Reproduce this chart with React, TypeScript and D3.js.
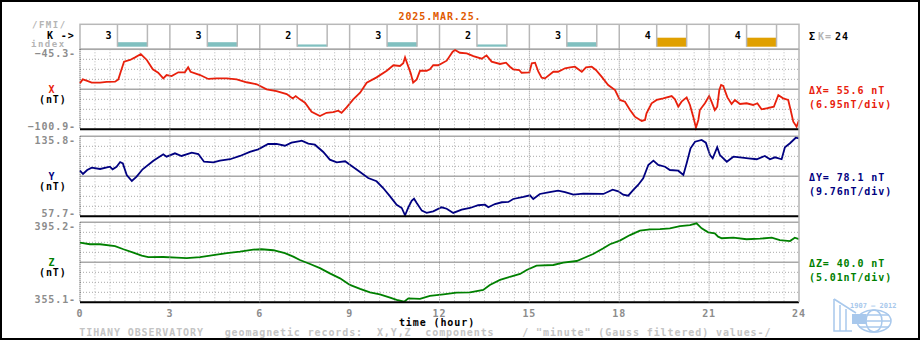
import { useEffect } from "react";
import * as d3 from "d3";

// ---- data ----
const dateLabel = "2025.MAR.25.";
const hourTicks = [0, 3, 6, 9, 12, 15, 18, 21, 24];
const kIndex = [3, 3, 2, 3, 2, 3, 4, 4];
const kSum = 24;
// lower limit of each K class in nT (Tihany scale) - bar height
const kLowerLimit = [0, 5, 10, 20, 40, 70, 120, 200, 330, 500];

const rangeX = [-100.9, -45.3];
const rangeY = [57.7, 135.8];
const rangeZ = [355.1, 395.2];
const deltaText = ["55.6", "78.1", "40.0"];
const perDivText = ["6.95", "9.76", "5.01"];

// [hour, nT]
const seriesX: [number, number][] = [
  [0, -68.9], [0.09, -66.2], [0.22, -67.1], [0.39, -68.5], [0.67, -68.5], [0.89, -68.0],
  [1.17, -67.8], [1.28, -66.2], [1.36, -60.9], [1.47, -53.9], [1.67, -52.7], [1.84, -50.9],
  [2.03, -48.6], [2.23, -52.7], [2.43, -59.2], [2.61, -61.6], [2.78, -65.5], [2.89, -63.2],
  [3.06, -63.9], [3.28, -61.3], [3.5, -61.3], [3.61, -57.8], [3.69, -60.9], [4.01, -63.2],
  [4.28, -65.9], [4.56, -65.5], [4.9, -65.5], [5.23, -66.2], [5.56, -68.2], [5.9, -69.6],
  [6.23, -73.1], [6.56, -74.3], [6.9, -76.4], [7.1, -79.4], [7.2, -77.8], [7.34, -80.1],
  [7.51, -82.4], [7.73, -88.7], [8.01, -91.7], [8.23, -89.4], [8.45, -88.9], [8.62, -88.0],
  [8.73, -89.4], [8.9, -85.6], [9.12, -80.1], [9.35, -75.5], [9.57, -68.5], [9.9, -64.8],
  [10.24, -60.2], [10.46, -56.4], [10.68, -56.9], [10.79, -55.0], [10.85, -50.9], [10.96, -57.4],
  [11.04, -62.0], [11.12, -68.5], [11.24, -66.2], [11.35, -60.2], [11.57, -60.2], [11.68, -59.2],
  [11.79, -56.4], [11.96, -56.4], [12.24, -53.2], [12.44, -47.0], [12.52, -45.8], [12.68, -47.7],
  [12.91, -48.1], [13.13, -50.0], [13.41, -51.8], [13.57, -49.5], [13.74, -53.9], [14.02, -55.5],
  [14.22, -54.6], [14.35, -57.4], [14.46, -59.2], [14.66, -59.7], [14.74, -61.6], [15.0, -61.3],
  [15.08, -55.0], [15.19, -54.6], [15.3, -60.9], [15.41, -65.0], [15.52, -65.5], [15.8, -60.9],
  [15.96, -60.9], [16.19, -58.5], [16.36, -57.8], [16.52, -57.4], [16.75, -60.9], [16.89, -57.8],
  [17.08, -57.4], [17.22, -59.7], [17.41, -64.3], [17.63, -70.1], [17.86, -73.6], [18.02, -80.5],
  [18.19, -81.7], [18.36, -87.5], [18.52, -92.1], [18.75, -95.1], [18.86, -94.4], [18.91, -89.8],
  [19.08, -82.8], [19.25, -80.5], [19.47, -79.4], [19.75, -77.8], [19.86, -80.1], [19.97, -85.2],
  [20.08, -81.7], [20.25, -78.7], [20.36, -84.0], [20.47, -92.1], [20.56, -99.8], [20.64, -94.4],
  [20.69, -87.5], [20.86, -82.8], [21.0, -77.8], [21.08, -81.7], [21.19, -87.5], [21.27, -85.2],
  [21.34, -73.6], [21.4, -70.1], [21.47, -70.8], [21.61, -78.7], [21.75, -83.3], [21.86, -80.5],
  [22.03, -83.3], [22.25, -82.8], [22.47, -84.0], [22.61, -82.8], [22.75, -87.0], [22.92, -86.3],
  [23.16, -85.2], [23.31, -77.1], [23.47, -79.4], [23.64, -80.5], [23.72, -87.5], [23.81, -95.6],
  [23.92, -99.1], [24.0, -94.4],
];

const seriesY: [number, number][] = [
  [0, 102.2], [0.1, 99.0], [0.24, 102.9], [0.39, 105.2], [0.67, 103.9], [1.0, 106.1],
  [1.09, 103.6], [1.22, 106.1], [1.34, 110.7], [1.43, 109.4], [1.56, 98.0], [1.73, 92.2],
  [1.89, 96.4], [2.09, 103.6], [2.45, 112.0], [2.78, 118.2], [2.89, 115.9], [3.17, 119.2],
  [3.39, 116.6], [3.73, 119.8], [3.95, 118.5], [4.14, 111.0], [4.45, 110.4], [4.67, 112.0],
  [5.01, 113.4], [5.34, 116.6], [5.67, 120.5], [5.95, 123.1], [6.28, 128.3], [6.56, 128.3],
  [6.84, 126.6], [7.06, 129.6], [7.34, 131.2], [7.4, 131.5], [7.62, 128.6], [7.84, 127.6],
  [8.12, 120.5], [8.34, 113.0], [8.57, 110.4], [8.85, 111.4], [9.01, 108.1], [9.29, 102.2],
  [9.62, 95.1], [9.9, 91.9], [10.12, 85.3], [10.35, 77.2], [10.57, 69.0], [10.74, 65.8],
  [10.85, 58.7], [10.96, 66.5], [11.07, 72.9], [11.15, 74.9], [11.24, 70.7], [11.41, 63.2],
  [11.57, 61.0], [11.79, 62.6], [12.07, 66.5], [12.24, 65.1], [12.46, 61.0], [12.74, 64.2],
  [13.02, 65.8], [13.29, 68.5], [13.52, 69.0], [13.63, 66.5], [13.85, 69.7], [14.08, 71.4],
  [14.3, 71.7], [14.46, 74.6], [14.8, 76.6], [15.02, 78.2], [15.13, 74.6], [15.35, 79.5],
  [15.63, 81.1], [15.96, 82.7], [16.19, 81.4], [16.47, 78.8], [16.8, 79.8], [17.47, 79.5],
  [17.78, 83.7], [17.97, 82.1], [18.13, 78.8], [18.3, 77.8], [18.47, 83.4], [18.63, 88.3],
  [18.8, 94.8], [18.97, 107.8], [19.14, 112.0], [19.3, 107.8], [19.53, 106.1], [19.69, 102.9],
  [19.97, 102.2], [20.14, 98.0], [20.25, 109.4], [20.38, 124.1], [20.53, 130.5], [20.75, 132.2],
  [20.89, 129.6], [21.03, 117.5], [21.12, 114.3], [21.27, 125.1], [21.36, 117.5], [21.59, 111.0],
  [21.81, 115.9], [22.03, 115.3], [22.31, 114.3], [22.59, 113.4], [22.86, 116.6], [23.03, 113.4],
  [23.2, 115.3], [23.42, 113.4], [23.53, 125.1], [23.7, 129.0], [23.89, 134.4], [24.0, 133.8],
];

const seriesZ: [number, number][] = [
  [0, 385.0], [0.33, 384.2], [0.67, 384.2], [1.17, 383.3], [1.45, 381.7], [1.78, 380.0],
  [2.06, 378.5], [2.28, 377.7], [2.78, 377.8], [3.23, 377.5], [3.56, 377.2], [4.01, 377.7],
  [4.45, 378.7], [4.9, 379.7], [5.34, 380.5], [5.78, 381.5], [6.06, 381.7], [6.45, 381.2],
  [6.84, 379.7], [7.12, 378.0], [7.34, 376.3], [7.68, 374.3], [8.01, 372.2], [8.34, 369.6],
  [8.68, 367.1], [9.01, 363.8], [9.35, 361.8], [9.68, 360.1], [10.01, 359.1], [10.35, 357.4],
  [10.57, 356.3], [10.82, 355.4], [10.96, 357.1], [11.35, 356.8], [11.68, 358.3], [12.13, 359.1],
  [12.57, 359.9], [13.02, 360.1], [13.46, 361.3], [13.68, 363.8], [14.02, 366.3], [14.35, 367.9],
  [14.69, 369.3], [14.91, 371.3], [15.24, 373.5], [15.8, 373.8], [16.13, 375.0], [16.58, 375.8],
  [16.8, 377.2], [17.13, 379.3], [17.47, 382.2], [17.69, 384.2], [18.02, 386.0], [18.36, 388.8],
  [18.69, 391.0], [19.03, 391.7], [19.36, 391.8], [19.69, 392.2], [20.03, 393.3], [20.36, 393.8],
  [20.58, 394.7], [20.75, 392.2], [20.97, 390.2], [21.19, 389.7], [21.3, 388.0], [21.42, 387.2],
  [21.81, 387.5], [22.25, 386.7], [22.7, 387.0], [23.09, 387.5], [23.36, 386.3], [23.7, 385.8],
  [23.86, 387.5], [24.0, 386.8],
];

const FONT = "'DejaVu Sans Mono', monospace";
const FS = 10;
const LS = 0.9;

const panels = [
  { name: "X", top: 49.3, range: rangeX, data: seriesX, color: "#e8200c" },
  { name: "Y", top: 136.3, range: rangeY, data: seriesY, color: "#000080" },
  { name: "Z", top: 222.3, range: rangeZ, data: seriesZ, color: "#008000" },
];
const PANEL_H = 80;

const fmt = d3.format(".1f");

export default function App() {
  useEffect(() => {
    document.body.style.margin = "0";
  }, []);

  const x = d3.scaleLinear().domain([0, 24]).range([80, 799]);
  const kTop = 24.3;
  const kBottom = 49.3;
  const kBarBase = 46.7;
  const kBarH = d3.scaleLinear().domain([0, 40]).range([0, 9]);
  const plotBottom = panels[2].top + PANEL_H;

  const minorHours = d3.range(0.5, 24, 0.5).filter((h) => h % 3 !== 0);
  const majorHours = hourTicks.slice(1, -1);

  return (
    <svg
      width={920}
      height={340}
      style={{ display: "block", background: "#fff" }}
      fontFamily={FONT}
      fontWeight="bold"
      fontSize={FS}
      letterSpacing={LS}
    >
      <rect x={1} y={1} width={918} height={338} fill="#fff" stroke="#000" strokeWidth={2} />

      {/* header */}
      <text x={440} y={16} textAnchor="middle" dominantBaseline="central" fill="#e05a00">
        {dateLabel}
      </text>
      <text x={32} y={24.6} fontSize={9} letterSpacing={1.5} dominantBaseline="central" fill="#b4b4b4">
        /FMI/
      </text>
      <text x={47} y={35} dominantBaseline="central" fill="#000">K -&gt;</text>
      <text x={31} y={44} fontSize={9} letterSpacing={1.5} dominantBaseline="central" fill="#b4b4b4">
        index
      </text>

      {/* K index boxes */}
      <g>
        {kIndex.map((k, i) => {
          const x0 = x(i * 3 + 1.25);
          const x1 = x(i * 3 + 2.25);
          const h = kBarH(kLowerLimit[k]);
          return (
            <g key={i}>
              <rect
                x={x0}
                y={kBarBase - h}
                width={x1 - x0}
                height={h}
                fill={k >= 4 ? "#e0a000" : "#80c0c0"}
              />
              <line x1={x0} x2={x0} y1={kTop} y2={kBarBase} stroke="#b8b8b8" strokeWidth={1.5} />
              <line x1={x1} x2={x1} y1={kTop} y2={kBarBase} stroke="#b8b8b8" strokeWidth={1.5} />
              <text x={x(i * 3 + 0.97)} y={35} textAnchor="middle" dominantBaseline="central" fill="#000">
                {k}
              </text>
            </g>
          );
        })}
        <rect
          x={x(0)}
          y={kTop}
          width={x(24) - x(0)}
          height={kBottom - kTop}
          fill="none"
          stroke="#b8b8b8"
          strokeWidth={1.5}
        />
        {majorHours.map((h) => (
          <line key={h} x1={x(h)} x2={x(h)} y1={kTop} y2={kBottom} stroke="#b8b8b8" strokeWidth={1.5} />
        ))}
      </g>
      <text y={36} dominantBaseline="central">
        <tspan x={809} fill="#000">Σ</tspan>
        <tspan x={818} fill="#b4b4b4">K=</tspan>
        <tspan x={835} fill="#000">{kSum}</tspan>
      </text>

      {/* panels */}
      {panels.map((p, pi) => {
        const y = d3.scaleLinear().domain(p.range).range([p.top + PANEL_H, p.top]);
        const line = d3
          .line<[number, number]>()
          .x((d) => x(d[0]))
          .y((d) => y(d[1]));
        const rows = d3.range(0, 8);
        const mid = p.top + PANEL_H / 2;
        return (
          <g key={p.name}>
            {minorHours.map((h) => (
              <line
                key={h}
                x1={x(h)}
                x2={x(h)}
                y1={p.top}
                y2={p.top + PANEL_H}
                stroke="#b4b4b4"
                strokeWidth={1}
                strokeDasharray="1,2"
              />
            ))}
            {rows.map((r) => {
              const yy = p.top + r * 10;
              const solid = r === 0 || r === 4;
              return (
                <line
                  key={r}
                  x1={x(0)}
                  x2={x(24)}
                  y1={yy}
                  y2={yy}
                  stroke="#a8a8a8"
                  strokeWidth={solid ? 1.5 : 1}
                  strokeDasharray={solid ? undefined : "1,2"}
                />
              );
            })}
            <line
              x1={x(0)}
              x2={x(0)}
              y1={p.top}
              y2={p.top + PANEL_H}
              stroke="#333"
              strokeWidth={1}
              strokeDasharray="1,1"
            />
            <path d={line(p.data) ?? ""} fill="none" stroke={p.color} strokeWidth={1.8} />
            <line
              x1={x(0)}
              x2={x(24)}
              y1={p.top + PANEL_H}
              y2={p.top + PANEL_H}
              stroke="#000"
              strokeWidth={2}
            />

            {/* left axis labels */}
            <text x={76} y={p.top + 3.8} textAnchor="end" dominantBaseline="central" fill="#8c8c8c">
              {fmt(p.range[1])}-
            </text>
            <text x={76} y={p.top + PANEL_H - 3} textAnchor="end" dominantBaseline="central" fill="#8c8c8c">
              {fmt(p.range[0])}-
            </text>
            <text x={52} y={mid} textAnchor="middle" dominantBaseline="central" fill={p.color}>
              {p.name}
            </text>
            <text x={39} y={mid + 10.5} dominantBaseline="central" fill="#000">(nT)</text>

            {/* right labels */}
            <text x={809} y={mid + 1} dominantBaseline="central" fill={p.color}>
              {`Δ${p.name}= ${deltaText[pi]} nT`}
            </text>
            <text x={809} y={mid + 15} dominantBaseline="central" fill={p.color}>
              {`(${perDivText[pi]}nT/div)`}
            </text>
          </g>
        );
      })}

      {/* 3-hour lines and right edge across all panels */}
      {majorHours.map((h) => (
        <line
          key={h}
          x1={x(h)}
          x2={x(h)}
          y1={kBottom}
          y2={plotBottom}
          stroke="#909090"
          strokeWidth={1}
          strokeDasharray="1,1"
        />
      ))}
      <line x1={x(24)} x2={x(24)} y1={kBottom} y2={plotBottom} stroke="#b4b4b4" strokeWidth={1.5} />

      {/* x axis */}
      {hourTicks.map((h) => (
        <text key={h} x={x(h)} y={313.5} textAnchor="middle" dominantBaseline="central" fill="#8c8c8c">
          {h}
        </text>
      ))}
      <text x={437} y={322.7} textAnchor="middle" dominantBaseline="central" fill="#000">
        time (hour)
      </text>
      <text x={79.3} y={332.5} dominantBaseline="central" fill="#c4c4c4" style={{ whiteSpace: "pre" }}>
        {'TIHANY OBSERVATORY   geomagnetic records:  X,Y,Z  components    / "minute" (Gauss filtered) values-/'}
      </text>

      {/* observatory logo */}
      <g fill="none" stroke="#a8c8ec" strokeWidth={1.5}>
        <polyline points="834,299 834,331 852,331" />
        <polyline points="834,299 856,313" />
        <line x1={840} x2={840} y1={305} y2={331} />
        <line x1={846} x2={846} y1={309} y2={331} />
        <ellipse cx={874} cy={321} rx={17} ry={11} />
        <ellipse cx={874} cy={321} rx={8} ry={11} />
        <line x1={857} x2={891} y1={321} y2={321} />
        <line x1={859} x2={889} y1={315} y2={315} />
        <line x1={859} x2={889} y1={327} y2={327} />
        <rect x={852} y={314} width={14} height={10} fill="#a8c8ec" stroke="none" />
      </g>
      <text
        x={850}
        y={305.7}
        fontSize={7}
        letterSpacing={0}
        fontWeight="bold"
        dominantBaseline="central"
        fill="#a8c8ec"
      >
        1907 — 2012
      </text>
    </svg>
  );
}
